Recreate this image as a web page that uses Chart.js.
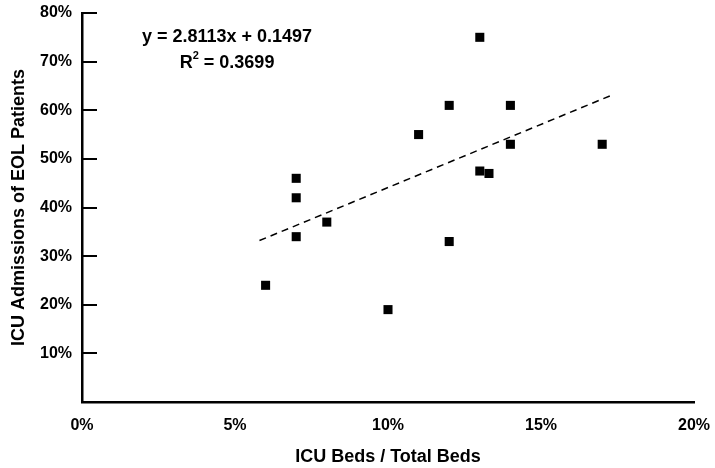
<!DOCTYPE html>
<html>
<head>
<meta charset="utf-8">
<script src="https://cdn.jsdelivr.net/npm/chart.js@4.4.1/dist/chart.umd.min.js"></script>
<style>
  body{margin:0;background:#fff}
  #chart{display:block}
</style>
</head>
<body>
<canvas id="chart" width="715" height="468"></canvas>
<script>
// ICU beds share (%) vs ICU admissions of EOL patients (%)
const bedsPct = [6, 7, 7, 7, 8, 10, 11, 12, 12, 13, 13, 13.3, 14, 14, 17]
const admitPct = [24, 46, 42, 34, 37, 19, 55, 33, 61, 75, 47.5, 47, 61, 53, 53]

// trend line ends
const trendX = [5.8, 17.35]
const trendY = [33.2, 63.2]

const eqLine = 'y = 2.8113x + 0.1497'
const r2Value = '0.3699'

const xTicks = [0, 5, 10, 15, 20]
const yTicks = [0, 10, 20, 30, 40, 50, 60, 70, 80]

const font = 'Liberation Sans, Arial, Helvetica, sans-serif'

var points = bedsPct.map((x, i) => ({x: x, y: admitPct[i]}))
var trend = trendX.map((x, i) => ({x: x, y: trendY[i]}))

// inward tick marks on the y axis + regression text
var extras = {
  id: 'extras',
  afterDraw(chart) {
    var ctx = chart.ctx
    var area = chart.chartArea
    var ys = chart.scales.y
    var xs = chart.scales.x
    ctx.save()
    ctx.strokeStyle = '#000'
    ctx.lineWidth = 2
    yTicks.forEach(v => {
      var py = Math.round(ys.getPixelForValue(v))
      ctx.beginPath()
      ctx.moveTo(area.left, py)
      ctx.lineTo(area.left + 15, py)
      ctx.stroke()
    })

    ctx.fillStyle = '#000'
    ctx.textBaseline = 'middle'
    ctx.textAlign = 'center'
    ctx.font = 'bold 18px ' + font
    var cx = xs.getPixelForValue(4.74)
    ctx.fillText(eqLine, cx, ys.getPixelForValue(75.1))

    // R² line with superscript
    var y2 = ys.getPixelForValue(69.8)
    ctx.textAlign = 'left'
    var wR = ctx.measureText('R').width
    var rest = ' = ' + r2Value
    var wRest = ctx.measureText(rest).width
    ctx.font = 'bold 11px ' + font
    var wSup = ctx.measureText('2').width
    var start = cx - (wR + wSup + wRest) / 2
    ctx.font = 'bold 18px ' + font
    ctx.fillText('R', start, y2)
    ctx.fillText(rest, start + wR + wSup, y2)
    ctx.font = 'bold 11px ' + font
    ctx.fillText('2', start + wR, y2 - 7)
    ctx.restore()
  }
}

var ctx = document.getElementById('chart').getContext('2d')
var myChart = new Chart(ctx, {
  type: 'scatter',
  data: {
    datasets: [{
      label: 'Hospitals',
      data: points,
      pointStyle: 'rect',
      pointRadius: 6.4,
      pointHoverRadius: 6.4,
      backgroundColor: '#000',
      borderWidth: 0
    }, {
      type: 'line',
      label: 'Trend',
      data: trend,
      borderColor: '#000',
      borderWidth: 1.5,
      borderDash: [7, 5],
      pointRadius: 0,
      fill: false
    }]
  },
  options: {
    responsive: false,
    animation: false,
    layout: {padding: {top: 13, right: 21, bottom: 0, left: 0}},
    plugins: {legend: {display: false}, tooltip: {enabled: false}},
    scales: {
      x: {
        type: 'linear',
        min: 0, max: 20,
        afterFit: s => { s.height = 66; s.paddingLeft = 0; s.paddingRight = 0 },
        afterBuildTicks: s => { s.ticks = xTicks.map(v => ({value: v})) },
        grid: {display: false, drawTicks: false},
        border: {display: true, color: '#000', width: 2.5},
        ticks: {
          padding: 14,
          color: '#000',
          font: {family: font, size: 16, weight: 'bold'},
          callback: v => v + '%'
        },
        title: {
          display: true,
          text: 'ICU Beds / Total Beds',
          color: '#000',
          font: {family: font, size: 18, weight: 'bold'},
          padding: {top: 0, bottom: 0}
        }
      },
      y: {
        min: 0, max: 80,
        afterFit: s => { s.width = 82; s.paddingTop = 0; s.paddingBottom = 0 },
        afterBuildTicks: s => { s.ticks = yTicks.map(v => ({value: v})) },
        grid: {display: false, drawTicks: false},
        border: {display: true, color: '#000', width: 2.5},
        ticks: {
          padding: 10,
          color: '#000',
          font: {family: font, size: 16, weight: 'bold'},
          callback: v => v === 0 ? '' : v + '%'
        },
        title: {
          display: true,
          text: 'ICU Admissions of EOL Patients',
          color: '#000',
          font: {family: font, size: 18, weight: 'bold'},
          padding: {top: 8, bottom: 0}
        }
      }
    }
  },
  plugins: [extras]
})
</script>
</body>
</html>
